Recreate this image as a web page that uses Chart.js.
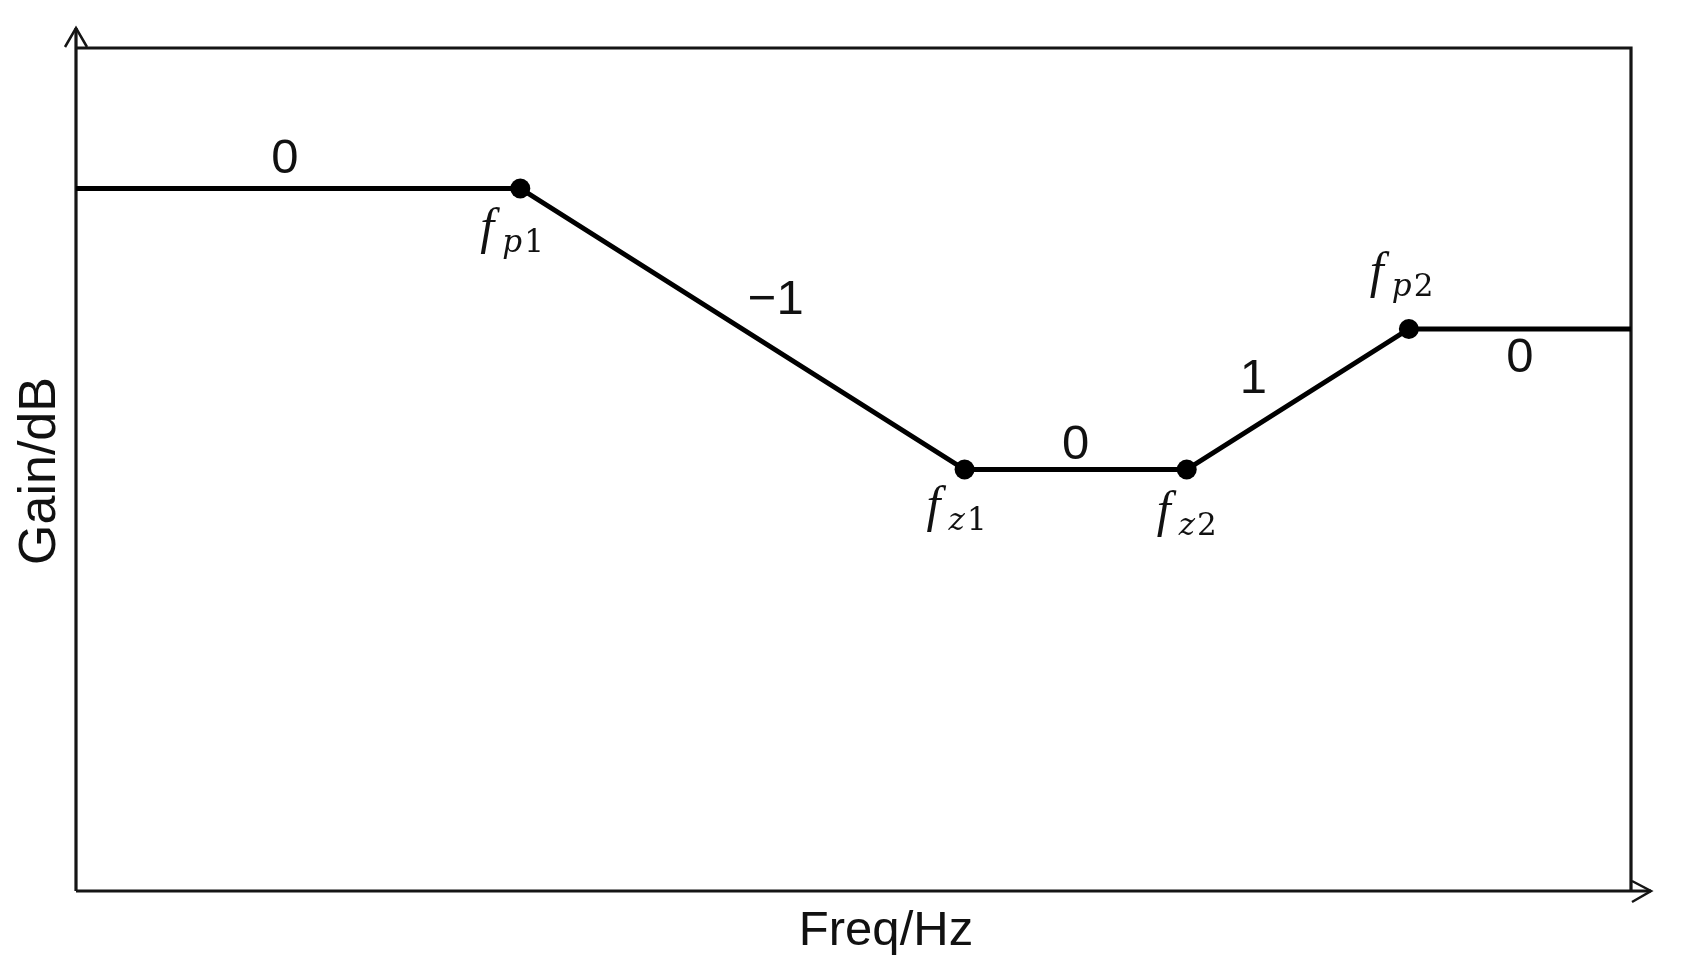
<!DOCTYPE html>
<html lang="en">
<head>
    <meta charset="UTF-8">
    <title>Gain vs Freq</title>
    <script src="https://cdn.jsdelivr.net/npm/chart.js"></script>
    <style>
        html, body { margin: 0; padding: 0; background: #fff; }
        canvas { display: block; }
    </style>
</head>
<body>
    <canvas id="bodeChart" width="1682" height="971"></canvas>
    <script>
        // asymptotic gain curve: break frequencies (axis units) and gain at each
        const freqPoints = [0, 2, 4, 5, 6, 7];
        const gainPoints = [5, 5, 3, 3, 4, 4];
        // name of each break point, drawn as f with a subscript (null = no dot)
        const breakNames = [null, 'p1', 'z1', 'z2', 'p2', null];
        // slope of each segment and where its label sits (axis units)
        const slopeLabels = ['0', '\u22121', '0', '1', '0'];
        const slopeX = [0.94, 3.15, 4.5, 5.3, 6.5];
        const slopeY = [5.21, 4.20, 3.17, 3.64, 3.79];

        // where the f label sits relative to its dot (px)
        const nameOffsets = {
            p1: [-40, 54],
            z1: [-38, 51],
            z2: [-30, 56],
            p2: [-39, -42]
        };

        const frame = {
            id: 'frame',
            beforeDatasetsDraw(chart) {
                const { ctx, chartArea: a } = chart;
                ctx.save();
                ctx.strokeStyle = '#151515';
                ctx.lineWidth = 3.2;
                ctx.beginPath();
                ctx.moveTo(a.left, a.top);
                ctx.lineTo(a.right, a.top);
                ctx.lineTo(a.right, a.bottom);
                ctx.moveTo(a.left, a.bottom);
                ctx.lineTo(a.left, a.top - 20);
                ctx.moveTo(a.left, a.bottom);
                ctx.lineTo(a.right + 20, a.bottom);
                ctx.stroke();
                // open arrow heads
                ctx.lineWidth = 2.5;
                ctx.beginPath();
                ctx.moveTo(a.left - 11, a.top - 1);
                ctx.lineTo(a.left, a.top - 20);
                ctx.lineTo(a.left + 11, a.top - 1);
                ctx.moveTo(a.right + 1, a.bottom - 10);
                ctx.lineTo(a.right + 20, a.bottom);
                ctx.lineTo(a.right + 1, a.bottom + 11);
                ctx.stroke();

                // axis titles
                ctx.fillStyle = '#111';
                ctx.font = '49px "Liberation Sans", Arial, sans-serif';
                ctx.textAlign = 'center';
                ctx.textBaseline = 'alphabetic';
                ctx.fillText('Freq/Hz', 886, 945);
                ctx.translate(55, 471);
                ctx.rotate(-Math.PI / 2);
                ctx.font = '52px "Liberation Sans", Arial, sans-serif';
                ctx.fillText('Gain/dB', 0, 0);
                ctx.restore();
            },
            afterDatasetsDraw(chart) {
                const { ctx, scales: { x, y } } = chart;
                ctx.save();
                ctx.fillStyle = '#111';
                ctx.textAlign = 'center';
                ctx.textBaseline = 'middle';
                ctx.font = '49px "Liberation Sans", Arial, sans-serif';
                slopeLabels.forEach((s, i) => {
                    ctx.fillText(s, x.getPixelForValue(slopeX[i]), y.getPixelForValue(slopeY[i]));
                });

                ctx.textAlign = 'left';
                ctx.textBaseline = 'alphabetic';
                breakNames.forEach((name, i) => {
                    if (!name) return;
                    const px = x.getPixelForValue(freqPoints[i]);
                    const py = y.getPixelForValue(gainPoints[i]);
                    const [dx, dy] = nameOffsets[name];
                    const lx = px + dx, ly = py + dy;
                    ctx.font = 'italic 50px "Liberation Serif", "Times New Roman", serif';
                    ctx.fillText('f', lx, ly);
                    ctx.font = 'italic 31px "DejaVu Serif", serif';
                    ctx.fillText(name[0], lx + 22, ly + 9);
                    const w = ctx.measureText(name[0]).width;
                    ctx.font = '31px "DejaVu Serif", serif';
                    ctx.fillText(name.slice(1), lx + 24 + w, ly + 9);
                });
                ctx.restore();
            }
        };

        const ctx = document.getElementById('bodeChart').getContext('2d');
        new Chart(ctx, {
            type: 'scatter',
            data: {
                datasets: [{
                    data: freqPoints.map((f, i) => ({ x: f, y: gainPoints[i] })),
                    showLine: true,
                    borderColor: '#000',
                    borderWidth: 5,
                    backgroundColor: '#000',
                    pointBackgroundColor: '#000',
                    pointBorderWidth: 0,
                    pointRadius: breakNames.map(n => n ? 10 : 0),
                    pointHoverRadius: breakNames.map(n => n ? 10 : 0),
                    clip: false
                }]
            },
            options: {
                responsive: false,
                animation: false,
                events: [],
                layout: {
                    padding: { left: 76, right: 51, top: 48, bottom: 80 }
                },
                scales: {
                    x: { type: 'linear', min: 0, max: 7, display: false },
                    y: { type: 'linear', min: 0, max: 6, display: false }
                },
                plugins: {
                    legend: { display: false },
                    tooltip: { enabled: false }
                }
            },
            plugins: [frame]
        });
    </script>
</body>
</html>
